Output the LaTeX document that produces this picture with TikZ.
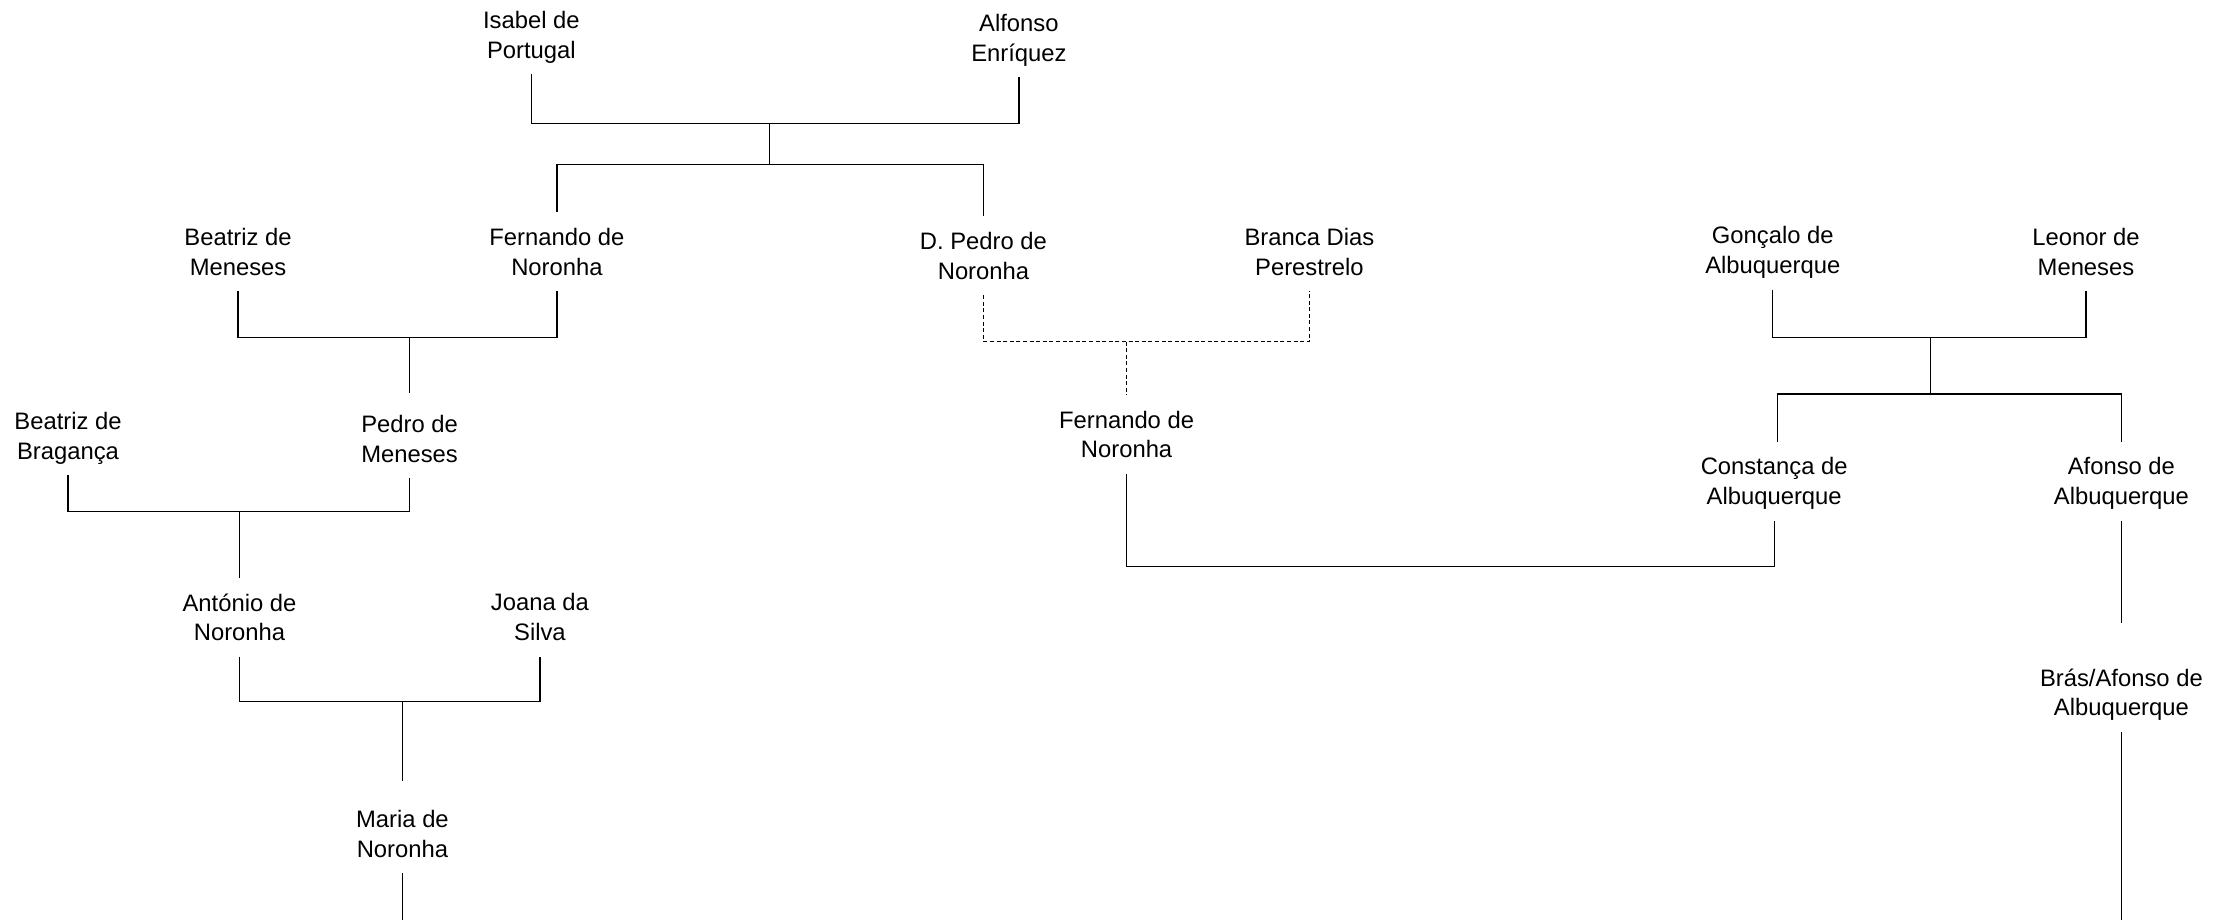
\documentclass[tikz,border=0pt]{standalone}
\usepackage{fontspec}
\setmainfont{Liberation Sans}

\begin{document}
\begin{tikzpicture}[x=0.7086pt, y=-0.7086pt,
    font=\fontsize{11.9}{14.9}\selectfont,
    person/.style={align=center, inner sep=0pt, text depth=0pt, minimum height=39pt},
    link/.style={line width=0.6pt},
    illegit/.style={link, dash pattern=on 2pt off 1.3pt}]
  \useasboundingbox (0,0) rectangle (1568,649);

  % personnes, rangee par rangee
  \begin{scope}[every node/.style={person}]
    \node (isabel) at (375,24.5) {Isabel de\\Portugal};
    \node (alfonso) at (719,26.5) {Alfonso\\Enríquez};
    \node (beatrizM) at (168,177.5) {Beatriz de\\Meneses};
    \node (fernA) at (393,177.5) {Fernando de\\Noronha};
    \node (pedroD) at (694,180.5) {D. Pedro de\\Noronha};
    \node (branca) at (924,177.5) {Branca Dias\\Perestrelo};
    \node (goncalo) at (1251,176.5) {Gonçalo de\\Albuquerque};
    \node (leonor) at (1472,177.5) {Leonor de\\Meneses};
    \node (beatrizB) at (48,307.5) {Beatriz de\\Bragança};
    \node (pedroM) at (289,309.5) {Pedro de\\Meneses};
    \node (fernB) at (795,306.5) {Fernando de\\Noronha};
    \node (constanca) at (1252,339.5) {Constança de\\Albuquerque};
    \node (afonso) at (1497,339.5) {Afonso de\\Albuquerque};
    \node (antonio) at (169,435.5) {António de\\Noronha};
    \node (joana) at (381,435.5) {Joana da\\Silva};
    \node (bras) at (1497,488.5) {Brás/Afonso de\\Albuquerque};
    \node (maria) at (284,588.5) {Maria de\\Noronha};
  \end{scope}

  % points d'union et bouts libres
  \coordinate (u1) at (543,87);
  \coordinate (u2) at (289,238);
  \coordinate (u3) at (169,361);
  \coordinate (u4) at (284,495);
  \coordinate (u5) at (795,241);
  \coordinate (u7) at (1362,238);
  \coordinate (endMaria) at (284,649);
  \coordinate (endBras) at (1497,649);

  % Isabel + Alfonso
  \draw[link] (isabel.south) |- (u1) -| (alfonso.south);
  \draw[link] (u1) -- ++(0,29) coordinate (k1);
  \draw[link] (fernA.north) |- (k1) -| (pedroD.north);
  % Beatriz + Fernando
  \draw[link] (beatrizM.south) |- (u2) -| (fernA.south);
  \draw[link] (u2) -- ([yshift=3pt]pedroM.north);
  % Beatriz + Pedro
  \draw[link] (beatrizB.south) |- (u3) -| (pedroM.south);
  \draw[link] (u3) -- (antonio.north);
  % Antonio + Joana
  \draw[link] (antonio.south) |- (u4) -| (joana.south);
  \draw[link] (u4) -- ([yshift=7pt]maria.north);
  \draw[link] (maria.south) -- (endMaria);
  % D. Pedro + Branca, en pointille
  \draw[illegit] (pedroD.south) |- (u5) -| (branca.south);
  \draw[illegit] (u5) -- (fernB.north);
  % Fernando + Constanca
  \draw[link] (fernB.south) |- (constanca.south |- 0,400) -- (constanca.south);
  % Goncalo + Leonor
  \draw[link] (goncalo.south) |- (u7) -| (leonor.south);
  \draw[link] (u7) -- ++(0,40) coordinate (k7);
  \draw[link] ([xshift=1.5pt]constanca.north) |- (k7) -| (afonso.north);
  \draw[link] (afonso.south) -- ([yshift=15pt]bras.north);
  \draw[link] (bras.south) -- (endBras);
\end{tikzpicture}
\end{document}
